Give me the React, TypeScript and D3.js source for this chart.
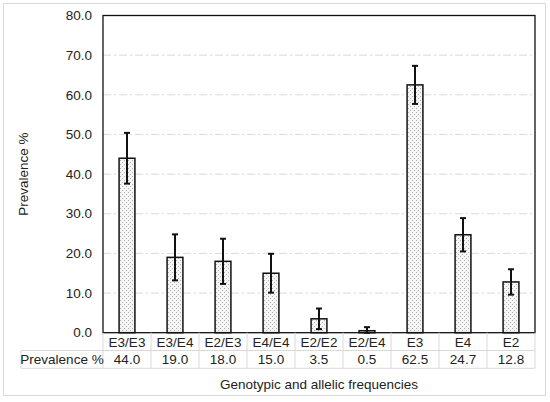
import * as d3 from "d3";
import { useEffect, useRef } from "react";

const categories = ["E3/E3", "E3/E4", "E2/E3", "E4/E4", "E2/E2", "E2/E4", "E3", "E4", "E2"];
const prevalence = [44.0, 19.0, 18.0, 15.0, 3.5, 0.5, 62.5, 24.7, 12.8];
const errors = [6.4, 5.8, 5.7, 4.9, 2.6, 0.9, 4.8, 4.2, 3.2];
const yTicks = [0, 10, 20, 30, 40, 50, 60, 70, 80];
const rowLabel = "Prevalence %";

export default function App() {
    const svgRef = useRef<SVGSVGElement | null>(null);
    const width = 550;
    const height = 402;

    useEffect(() => {
        const svg = d3.select(svgRef.current);
        svg.selectAll("*").remove();

        const font = "Liberation Sans, Arial, sans-serif";
        const fontSize = 13.5;
        const plot = { left: 103, right: 535, top: 15.5, bottom: 332.7 };
        const gridColor = "#d9d9d9";

        // outer frame
        svg.append("rect")
            .attr("x", 3.5)
            .attr("y", 3.5)
            .attr("width", 542)
            .attr("height", 392)
            .attr("fill", "#fff")
            .attr("stroke", "#d9d9d9");

        // dotted fill
        const defs = svg.append("defs");
        const pat = defs.append("pattern")
            .attr("id", "dots")
            .attr("patternUnits", "userSpaceOnUse")
            .attr("width", 4)
            .attr("height", 4);
        pat.append("rect").attr("width", 4).attr("height", 4).attr("fill", "#f6f6f6");
        pat.append("rect").attr("x", 0).attr("y", 0).attr("width", 1).attr("height", 1).attr("fill", "#ababab");
        pat.append("rect").attr("x", 2).attr("y", 2).attr("width", 1).attr("height", 1).attr("fill", "#ababab");

        const x = d3.scaleBand()
            .domain(categories)
            .range([plot.left, plot.right])
            .paddingInner(0)
            .paddingOuter(0);

        const y = d3.scaleLinear()
            .domain([0, 80])
            .range([plot.bottom, plot.top]);

        // grid
        svg.append("g")
            .selectAll("line")
            .data(yTicks.filter((t) => t > 0 && t < 80))
            .enter()
            .append("line")
            .attr("x1", plot.left)
            .attr("x2", plot.right)
            .attr("y1", (d) => y(d))
            .attr("y2", (d) => y(d))
            .attr("stroke", gridColor)
            .attr("stroke-width", 1)
            .attr("stroke-dasharray", "8,3,2,3");

        // y tick labels
        svg.append("g")
            .selectAll("text")
            .data(yTicks)
            .enter()
            .append("text")
            .attr("x", 92)
            .attr("y", (d) => y(d))
            .attr("dy", "0.35em")
            .attr("text-anchor", "end")
            .attr("font-family", font)
            .attr("font-size", fontSize)
            .attr("fill", "#222")
            .text((d) => d.toFixed(1));

        // y title
        svg.append("text")
            .attr("transform", `translate(28,${(plot.top + plot.bottom) / 2}) rotate(-90)`)
            .attr("text-anchor", "middle")
            .attr("font-family", font)
            .attr("font-size", fontSize)
            .attr("fill", "#222")
            .text("Prevalence %");

        const barW = x.bandwidth() * 0.33;

        // bars
        svg.append("g")
            .selectAll("rect")
            .data(prevalence)
            .enter()
            .append("rect")
            .attr("x", (_, i) => x(categories[i])! + (x.bandwidth() - barW) / 2)
            .attr("y", (d) => y(d))
            .attr("width", barW)
            .attr("height", (d) => y(0) - y(d))
            .attr("fill", "url(#dots)")
            .attr("stroke", "#111")
            .attr("stroke-width", 1.5);

        // error bars
        const eg = svg.append("g").attr("stroke", "#111").attr("stroke-width", 2);
        prevalence.forEach((v, i) => {
            const cx = x(categories[i])! + x.bandwidth() / 2;
            const hi = y(v + errors[i]);
            const lo = y(Math.max(0, v - errors[i]));
            eg.append("line").attr("x1", cx).attr("x2", cx).attr("y1", hi).attr("y2", lo);
            eg.append("line").attr("x1", cx - 3).attr("x2", cx + 3).attr("y1", hi).attr("y2", hi);
            eg.append("line").attr("x1", cx - 3).attr("x2", cx + 3).attr("y1", lo).attr("y2", lo);
        });

        // plot frame
        svg.append("rect")
            .attr("x", plot.left)
            .attr("y", plot.top)
            .attr("width", plot.right - plot.left)
            .attr("height", plot.bottom - plot.top)
            .attr("fill", "none")
            .attr("stroke", "#111")
            .attr("stroke-width", 1.3);

        // data table
        const row1 = { top: plot.bottom, bottom: 350.5 };
        const row2 = { top: 350.5, bottom: 368.3 };
        const tableLeft = 21;
        const tg = svg.append("g").attr("stroke", gridColor).attr("stroke-width", 1);

        tg.append("line").attr("x1", plot.left).attr("x2", plot.right).attr("y1", row1.bottom).attr("y2", row1.bottom);
        tg.append("line").attr("x1", tableLeft).attr("x2", plot.right).attr("y1", row2.top).attr("y2", row2.top);
        tg.append("line").attr("x1", tableLeft).attr("x2", plot.right).attr("y1", row2.bottom).attr("y2", row2.bottom);
        tg.append("line").attr("x1", tableLeft).attr("x2", tableLeft).attr("y1", row2.top).attr("y2", row2.bottom);

        const edges = categories.map((c) => x(c)!).concat([plot.right]);
        edges.forEach((ex) => {
            tg.append("line").attr("x1", ex).attr("x2", ex).attr("y1", row1.top).attr("y2", row2.bottom);
        });

        const tt = svg.append("g")
            .attr("font-family", font)
            .attr("font-size", fontSize)
            .attr("fill", "#222")
            .attr("text-anchor", "middle");

        categories.forEach((c, i) => {
            const cx = x(c)! + x.bandwidth() / 2;
            tt.append("text").attr("x", cx).attr("y", (row1.top + row1.bottom) / 2 + 1).attr("dy", "0.35em").text(c);
            tt.append("text").attr("x", cx).attr("y", (row2.top + row2.bottom) / 2).attr("dy", "0.35em").text(prevalence[i].toFixed(1));
        });

        tt.append("text")
            .attr("x", (tableLeft + plot.left) / 2)
            .attr("y", (row2.top + row2.bottom) / 2)
            .attr("dy", "0.35em")
            .text(rowLabel);

        // x title
        svg.append("text")
            .attr("x", (plot.left + plot.right) / 2)
            .attr("y", 384)
            .attr("dy", "0.35em")
            .attr("text-anchor", "middle")
            .attr("font-family", font)
            .attr("font-size", fontSize)
            .attr("fill", "#222")
            .text("Genotypic and allelic frequencies");
    }, []);

    return (
        <svg
            ref={svgRef}
            width={width}
            height={height}
            style={{ position: "absolute", left: 0, top: 0 }}
        ></svg>
    );
}
